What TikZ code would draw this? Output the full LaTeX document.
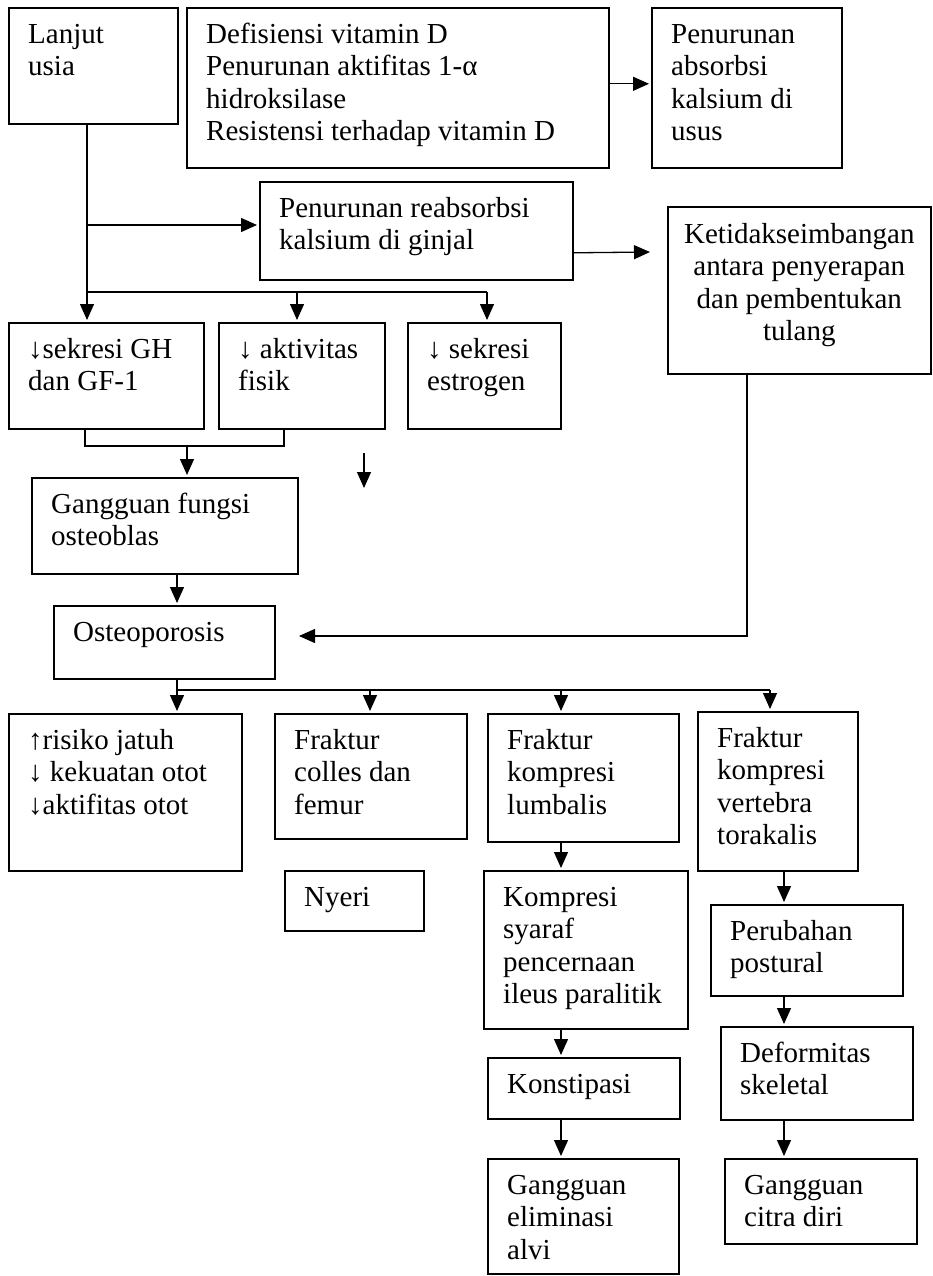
\documentclass[tikz,border=0pt]{standalone}
\usepackage{fontspec}
\setmainfont{Liberation Serif}
\usetikzlibrary{arrows.meta}
\tikzset{
  box/.style={draw, line width=1.6pt, inner sep=0pt},
  txt/.style={inner sep=0pt, align=left, font=\fontsize{29}{32.5}\selectfont},
  ln/.style={line width=1.3pt},
  arr/.style={ln, -{Triangle[length=16pt,width=14pt]}, shorten >=2pt},
}
\newcommand\mkbox[6]{%
  \node[box, minimum width=#4pt, minimum height=#5pt, anchor=north west] (#1) at (#2,#3) {};
  \node[txt, anchor=north west] (#1-t) at ([xshift=20pt,yshift=-11pt]#1.north west) {\rule{0pt}{25pt}#6};}
\begin{document}
\begin{tikzpicture}[x=1pt,y=-1pt]
\fill[white] (0,0) rectangle (932,1276);
\useasboundingbox (0,0) rectangle (932,1276);
% boxes
\mkbox{lanjut}{8}{7}{169}{116}{Lanjut\\usia}
\mkbox{defis}{186}{7}{422}{160}{Defisiensi vitamin D\\Penurunan aktifitas 1-α\\hidroksilase\\Resistensi terhadap vitamin D}
\mkbox{absorb}{651}{7}{190}{160}{Penurunan\\absorbsi\\kalsium di\\usus}
\mkbox{reab}{259}{181}{313}{98}{Penurunan reabsorbsi\\kalsium di ginjal}
\node[box, minimum width=263pt, minimum height=167pt, anchor=north west] (ketidak) at (667,206) {};
\node[txt, align=center, anchor=north] (ketidak-t) at ([yshift=-12pt]ketidak.north) {\rule{0pt}{25pt}Ketidakseimbangan\\antara penyerapan\\dan pembentukan\\tulang};
\mkbox{gh}{8}{322}{195}{106}{↓sekresi GH\\dan GF-1}
\mkbox{akt}{218}{322}{166}{106}{↓ aktivitas\\fisik}
\mkbox{estr}{407}{322}{153}{106}{↓ sekresi\\estrogen}
\mkbox{osteob}{31}{477}{266}{96}{Gangguan fungsi\\osteoblas}
\mkbox{osteo}{53}{605}{221}{73}{Osteoporosis}
\mkbox{risiko}{8}{713}{233}{157}{↑risiko jatuh\\↓ kekuatan otot\\↓aktifitas otot}
\mkbox{colles}{274}{713}{192}{125}{Fraktur\\colles dan\\femur}
\mkbox{lumb}{487}{713}{191}{128}{Fraktur\\kompresi\\lumbalis}
\mkbox{tora}{697}{711}{160}{159}{Fraktur\\kompresi\\vertebra\\torakalis}
\mkbox{nyeri}{284}{870}{139}{60}{Nyeri}
\mkbox{kompr}{483}{870}{204}{158}{Kompresi\\syaraf\\pencernaan\\ileus paralitik}
\mkbox{perub}{710}{904}{192}{91}{Perubahan\\postural}
\mkbox{konst}{487}{1057}{192}{61}{Konstipasi}
\mkbox{deform}{720}{1026}{192}{93}{Deformitas\\skeletal}
\mkbox{elim}{487}{1158}{191}{115}{Gangguan\\eliminasi\\alvi}
\mkbox{citra}{724}{1158}{192}{85}{Gangguan\\citra diri}
% junction coordinates
\coordinate (jL) at (87,292);
\coordinate (jR) at (87,225);
\coordinate (jA) at (297,292);
\coordinate (jE) at (487,292);
\coordinate (kIn) at (652,252);
\coordinate (bL) at (85,446);
\coordinate (bR) at (284,446);
\coordinate (bM) at (187,446);
\coordinate (s1) at (364,453);
\coordinate (s2) at (364,490);
\coordinate (oM) at (177,690);
\coordinate (oC) at (370,690);
\coordinate (oK) at (561,690);
\coordinate (oR) at (770,690);
\coordinate (kc) at (747,636);
\coordinate (kt) at (297,636);
\coordinate (cx) at (561,0);
\coordinate (dx) at (784,0);
% connectors
\draw[ln] (lanjut.south -| jL) -- (jL);
\draw[arr] (jR) -- (reab.west |- jR);
\draw[arr] (jL) -- (gh.north -| jL);
\draw[ln] (jL) -- (jE);
\draw[arr] (jA) -- (akt.north -| jA);
\draw[arr] (jE) -- (estr.north -| jE);
\draw[arr] ([yshift=4pt]defis.east) -- ([yshift=4pt]absorb.west);
\draw[arr] ([yshift=-22pt]reab.east) -- (kIn);
\draw[ln] (gh.south -| bL) -- (bL) -- (bR) -- (akt.south -| bR);
\draw[arr] (bM) -- (osteob.north -| bM);
\draw[arr] (s1) -- (s2);
\draw[arr] (osteob.south -| oM) -- (osteo.north -| oM);
\draw[ln] (osteo.south -| oM) -- (oM) -- (oR);
\draw[arr] (oM) -- (risiko.north -| oM);
\draw[arr] (oC) -- (colles.north -| oC);
\draw[arr] (oK) -- (lumb.north -| oK);
\draw[arr] (oR) -- (tora.north -| oR);
\draw[arr] (ketidak.south -| kc) -- (kc) -- (kt);
\draw[arr] (lumb.south -| cx) -- (kompr.north -| cx);
\draw[arr] (kompr.south -| cx) -- (konst.north -| cx);
\draw[arr] (konst.south -| cx) -- (elim.north -| cx);
\draw[arr] (tora.south -| dx) -- (perub.north -| dx);
\draw[arr] (perub.south -| dx) -- (deform.north -| dx);
\draw[arr] (deform.south -| dx) -- (citra.north -| dx);
\end{tikzpicture}
\end{document}
